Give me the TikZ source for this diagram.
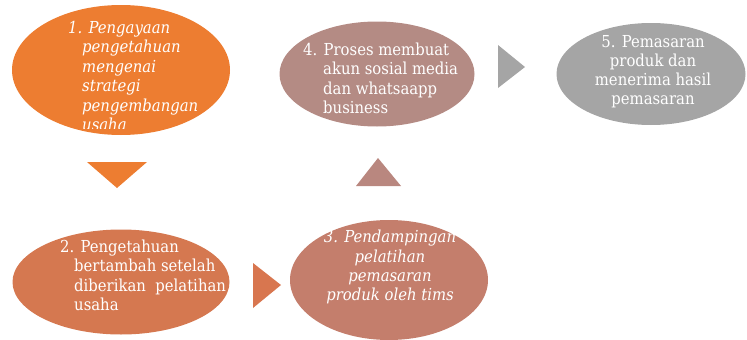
\documentclass[tikz,border=0pt]{standalone}
\usepackage{fontspec}
\setmainfont{DejaVu Serif Condensed}
\usetikzlibrary{shapes.geometric}
\definecolor{cOne}{HTML}{ED7D31}
\definecolor{cTwo}{HTML}{D57850}
\definecolor{cArrTwo}{HTML}{D8764F}
\definecolor{cThree}{HTML}{C47E6C}
\definecolor{cArrThree}{HTML}{B9877F}
\definecolor{cFour}{HTML}{B48B84}
\definecolor{cFive}{HTML}{A5A5A5}
\begin{document}
\begin{tikzpicture}[x=1pt,y=-1pt,
  blob/.style={ellipse, inner sep=0pt, draw=none},
  txt/.style={text=white, font={\fontsize{16.5}{19.2}\selectfont}, align=left, inner sep=0pt, anchor=north west},
  itxt/.style={txt, font={\fontsize{16.5}{19.4}\selectfont\itshape}}]
\useasboundingbox (0,0) rectangle (747,340);
% ellipses
\node[blob, fill=cOne, minimum width=218pt, minimum height=130pt] (e1) at (121,70) {};
\node[blob, fill=cTwo, minimum width=217pt, minimum height=105pt] (e2) at (121,282) {};
\node[blob, fill=cThree, minimum width=198pt, minimum height=120pt] (e3) at (389,280) {};
\node[blob, fill=cFour, minimum width=195pt, minimum height=105pt] (e4) at (377,74) {};
\node[blob, fill=cFive, minimum width=189pt, minimum height=102pt] (e5) at (651,74) {};
% chevrons
\fill[cOne] (87,162) -- (147,162) -- (117,188) -- cycle;
\fill[cArrTwo] (253,263) -- (281,285) -- (253,308) -- cycle;
\fill[cArrThree] (356,186) -- (401,186) -- (378,158) -- cycle;
\fill[cFive] (498,45) -- (525,67) -- (498,88) -- cycle;
% texts
\begin{scope}
\clip (0,0) rectangle (747,128);
\node[itxt] (t1) at (68,21) {1. Pengayaan\\\hspace*{14pt}pengetahuan\\\hspace*{14pt}mengenai\\\hspace*{14pt}strategi\\\hspace*{14pt}pengembangan\\\hspace*{14pt}usaha};
\end{scope}
\node[txt] (t2) at (60,240) {2. Pengetahuan\\\hspace*{14pt}bertambah setelah\\\hspace*{14pt}diberikan\ \ pelatihan\\\hspace*{14pt}usaha};
\node[itxt, align=center, anchor=north] (t3) at (390,230) {3. Pendampingan\\pelatihan\\pemasaran\\produk oleh tims};
\node[txt] (t4) at (303,43) {4. Proses membuat\\\hspace*{20pt}akun sosial media\\\hspace*{20pt}dan whatsaapp\\\hspace*{20pt}business};
\node[txt, align=center, anchor=north] (t5) at (653,35) {5. Pemasaran\\produk dan\\menerima hasil\\pemasaran};
\end{tikzpicture}
\end{document}
